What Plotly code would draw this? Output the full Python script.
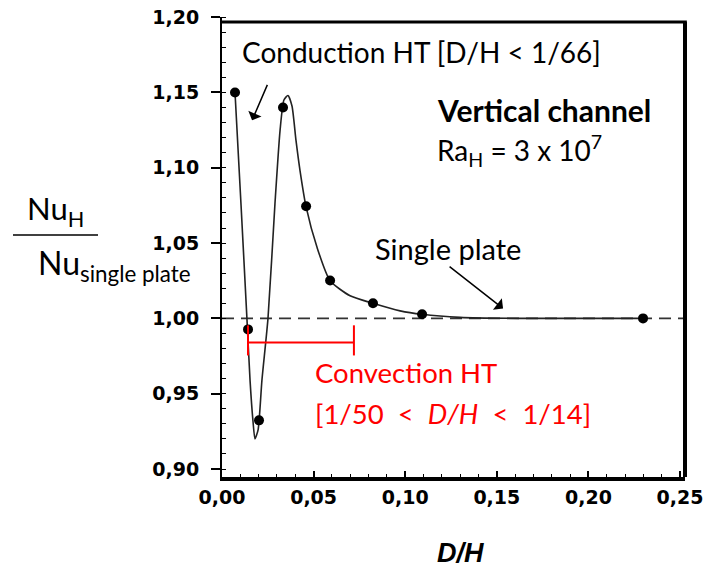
import plotly.graph_objects as go

# Measured points (D/H, Nu_H / Nu_single plate)
pt_x = [0.0071, 0.0142, 0.0202, 0.0333, 0.0459, 0.0590, 0.0824, 0.1092, 0.2298]
pt_y = [1.150, 0.9927, 0.9323, 1.140, 1.0744, 1.0252, 1.0100, 1.0027, 1.000]

# Fitted curve
curve_x = [0.0071, 0.0104, 0.0136, 0.0153, 0.0169, 0.0180, 0.0197, 0.0218, 0.0251,
           0.0289, 0.0317, 0.0338, 0.0360, 0.0382, 0.0404, 0.0426, 0.0459, 0.0519,
           0.0590, 0.0699, 0.0824, 0.0972, 0.1092, 0.1299, 0.1627, 0.2298]
curve_y = [1.150, 1.075, 1.000, 0.959, 0.932, 0.920, 0.926, 0.959, 1.000,
           1.076, 1.125, 1.145, 1.148, 1.141, 1.118, 1.098, 1.074, 1.047,
           1.025, 1.015, 1.010, 1.005, 1.0027, 1.0007, 1.000, 1.000]

x_ticks = [0.00, 0.05, 0.10, 0.15, 0.20, 0.25]
y_ticks = [0.90, 0.95, 1.00, 1.05, 1.10, 1.15, 1.20]

reference_level = 1.0
convection_range = [0.0142, 0.0720]

Y_RANGE = [0.8947, 1.2001]
FRAME_TOP = 1.1967
frame_top_paper = (FRAME_TOP - Y_RANGE[0]) / (Y_RANGE[1] - Y_RANGE[0])

FONT = "Lato"
TICKFONT = dict(family="DejaVu Sans", size=19, color="black", weight="bold")

fig = go.Figure()

fig.add_trace(go.Scatter(x=curve_x, y=curve_y, mode="lines",
                         line=dict(color="#222222", width=1.6, shape="spline", smoothing=0.6),
                         hoverinfo="skip", showlegend=False))
fig.add_trace(go.Scatter(x=pt_x, y=pt_y, mode="markers",
                         marker=dict(color="black", size=10),
                         showlegend=False))

shapes = []
# dashed single-plate level
shapes.append(dict(type="line", xref="paper", yref="y", x0=0, x1=1,
                   y0=reference_level, y1=reference_level,
                   line=dict(color="#333333", width=1.6, dash="12px,7px"), layer="below"))
# red bracket
by = 0.984
shapes.append(dict(type="line", xref="x", yref="y", x0=convection_range[0], x1=convection_range[1],
                   y0=by, y1=by, line=dict(color="red", width=2)))
for xv in convection_range:
    shapes.append(dict(type="line", xref="x", yref="y", x0=xv, x1=xv, y0=0.9754, y1=0.9954,
                       line=dict(color="red", width=2)))
# frame: top and right thick lines
shapes.append(dict(type="line", xref="paper", yref="paper", x0=-0.004, x1=1.004,
                   y0=frame_top_paper, y1=frame_top_paper,
                   line=dict(color="black", width=3)))
shapes.append(dict(type="line", xref="paper", yref="paper", x0=1, x1=1, y0=0, y1=frame_top_paper,
                   line=dict(color="black", width=4)))
# fraction bar of the y title
shapes.append(dict(type="line", xref="paper", yref="paper", x0=-0.4514, x1=-0.2678, y0=0.5261, y1=0.5261,
                   line=dict(color="black", width=1.5)))

annotations = [
    dict(x=0.0098, y=1.1766, xref="x", yref="y", text="Conduction HT [D/H &lt; 1/66]",
         showarrow=False, xanchor="left", yanchor="middle",
         font=dict(family=FONT, size=28, color="black")),
    dict(x=0.1163, y=1.1381, xref="x", yref="y", text="<b>Vertical channel</b>",
         showarrow=False, xanchor="left", yanchor="middle",
         font=dict(family=FONT, size=30, color="black")),
    dict(x=0.1163, y=1.1116, xref="x", yref="y", text="Ra<sub>H</sub> = 3 x 10<sup>7</sup>",
         showarrow=False, xanchor="left", yanchor="middle",
         font=dict(family=FONT, size=28, color="black")),
    dict(x=0.0824, y=1.0465, xref="x", yref="y", text="Single plate",
         showarrow=False, xanchor="left", yanchor="middle",
         font=dict(family=FONT, size=29, color="black")),
    dict(x=0.0497, y=0.9641, xref="x", yref="y", text="Convection HT",
         showarrow=False, xanchor="left", yanchor="middle",
         font=dict(family=FONT, size=27.5, color="red")),
    dict(x=0.0497, y=0.9369, xref="x", yref="y",
         text="[1/50  &lt;  <i>D/H</i>  &lt;  1/14]",
         showarrow=False, xanchor="left", yanchor="middle",
         font=dict(family=FONT, size=27.5, color="red")),
    # arrows
    dict(x=0.0164, y=1.1315, ax=0.0251, ay=1.156, xref="x", yref="y", axref="x", ayref="y",
         text="", showarrow=True, arrowhead=1, arrowsize=1.6, arrowwidth=1.5, arrowcolor="black"),
    dict(x=0.1534, y=1.0066, ax=0.1234, ay=1.0352, xref="x", yref="y", axref="x", ayref="y",
         text="", showarrow=True, arrowhead=1, arrowsize=1.6, arrowwidth=1.5, arrowcolor="black"),
    # y title as fraction
    dict(x=-0.4255, y=0.5804, xref="paper", yref="paper", text="Nu<sub>H</sub>",
         showarrow=False, xanchor="left", yanchor="middle",
         font=dict(family=FONT, size=31, color="black")),
    dict(x=-0.4020, y=0.4609, xref="paper", yref="paper", text="Nu<sub>single plate</sub>",
         showarrow=False, xanchor="left", yanchor="middle",
         font=dict(family=FONT, size=32, color="black")),
    # x title
    dict(x=0.516, y=-0.165, xref="paper", yref="paper", text="<b><i>D/H</i></b>",
         showarrow=False, xanchor="center", yanchor="middle",
         font=dict(family="Liberation Sans", size=27, color="black")),
]

fig.update_layout(
    width=708, height=567,
    margin=dict(l=222, r=23, t=17, b=90, autoexpand=False),
    paper_bgcolor="white", plot_bgcolor="white",
    separators=",.",
    shapes=shapes, annotations=annotations,
    xaxis=dict(range=[0, 0.2527], tickvals=x_ticks, tickformat=".2f", automargin=False,
               showgrid=False, zeroline=False,
               showline=True, linecolor="black", linewidth=4, mirror=False,
               ticks="inside", ticklen=6, tickwidth=1.5, tickcolor="black",
               minor=dict(dtick=0.01, ticks="inside", ticklen=3, tickwidth=1, tickcolor="black"),
               ticklabelstandoff=0, ticklabeloverflow="allow", tickfont=TICKFONT),
    yaxis=dict(range=Y_RANGE, tickvals=y_ticks, tickformat=".2f", automargin=False,
               showgrid=False, zeroline=False,
               showline=True, linecolor="black", linewidth=2, mirror=False,
               ticks="outside", ticklen=9, tickwidth=1.5, tickcolor="black",
               minor=dict(dtick=0.01, ticks="inside", ticklen=4, tickwidth=1.2, tickcolor="black"),
               ticklabelstandoff=8, ticklabeloverflow="allow", tickfont=TICKFONT),
)

# remove the browser's default 8px body margin so the figure fills the window exactly
fig.write_html("out.html", config={"displayModeBar": False},
               post_script="document.body.style.margin='0px';")
